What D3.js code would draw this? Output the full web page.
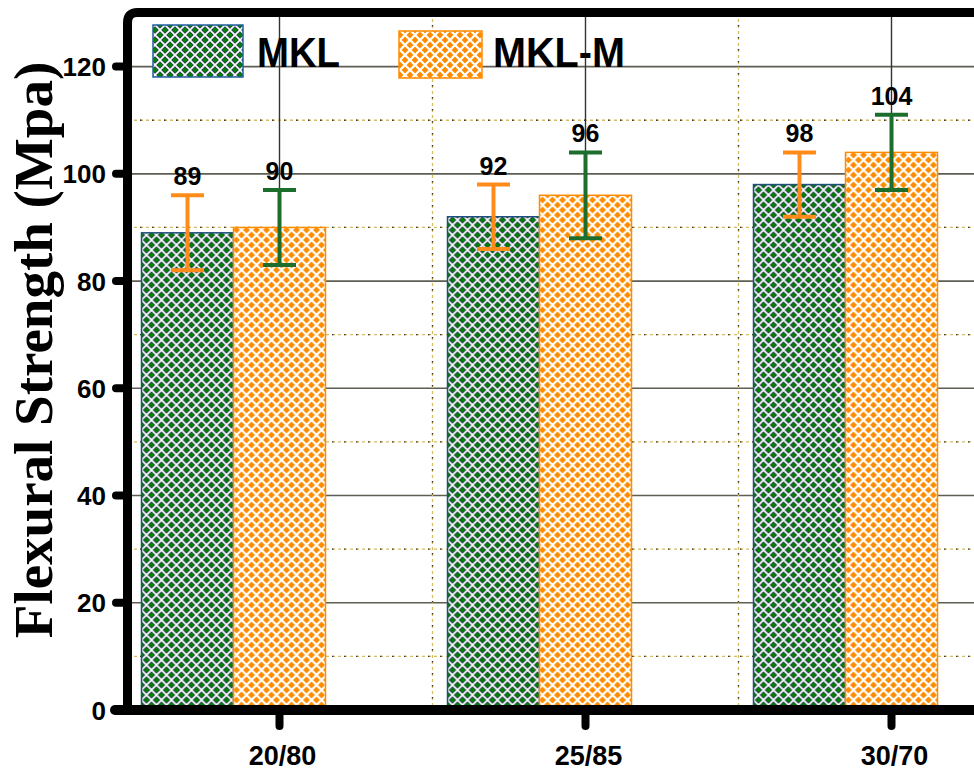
<!DOCTYPE html>
<html>
<head>
<meta charset="utf-8">
<script src="https://cdn.jsdelivr.net/npm/d3@7/dist/d3.min.js"></script>
<style>
  html, body { margin: 0; padding: 0; background: #fff; }
  svg { display: block; }
</style>
</head>
<body>
<svg id="chart" width="974" height="770"></svg>
<script>
// ---- data ----
const categories = ["20/80", "25/85", "30/70"];
const seriesNames = ["MKL", "MKL-M"];
const mklValues = [89, 92, 98];
const mklmValues = [90, 96, 104];
const mklErrors = [7, 6, 6];
const mklmErrors = [7, 8, 7];
const yTickValues = [0, 20, 40, 60, 80, 100, 120];
const yMinorValues = [10, 30, 50, 70, 90, 110];
const yTitle = "Flexural Strength (Mpa)";

const svg = d3.select("#chart");
const W = 974, H = 770;

// ---- scales ----
const y = d3.scaleLinear().domain([0, 130]).range([710, 13]);
const x0 = d3.scaleBand().domain(categories).range([141.5, 937.5]).paddingInner(0.3987).paddingOuter(0);
const x1 = d3.scaleBand().domain(seriesNames).range([0, x0.bandwidth()]).padding(0);
const tickX = c => x0(c) + x1("MKL-M") + x1.bandwidth() / 2;

const green = "#008000", orange = "#ff8c00";
const errGreen = "#1d6d2c", errOrange = "#ff8c1a";

// ---- patterns ----
const P = 10;
const hatch = `M-1,-1L${P + 1},${P + 1}M${P + 1},-1L-1,${P + 1}`;
const defs = svg.append("defs");
const pg = defs.append("pattern").attr("id", "pGreen").attr("patternUnits", "userSpaceOnUse")
  .attr("width", P).attr("height", P);
pg.append("rect").attr("width", P).attr("height", P).attr("fill", green);
pg.append("path").attr("d", hatch).attr("stroke", "#2a3f55").attr("stroke-width", 3.2);
pg.append("path").attr("d", hatch).attr("stroke", "#ffffff").attr("stroke-width", 1.6);

const po = defs.append("pattern").attr("id", "pOrange").attr("patternUnits", "userSpaceOnUse")
  .attr("width", P).attr("height", P);
po.append("rect").attr("width", P).attr("height", P).attr("fill", orange);
po.append("path").attr("d", hatch).attr("stroke", "#ffffff").attr("stroke-width", 2.2);

// ---- gridlines ----
const grid = svg.append("g");
grid.selectAll(".hminY").data(yMinorValues).join("line")
  .attr("x1", 128).attr("x2", W).attr("y1", d => y(d)).attr("y2", d => y(d))
  .attr("stroke", "#d8bc60").attr("stroke-width", 1.3).attr("stroke-dasharray", "3,3");
grid.selectAll(".hminK").data(yMinorValues).join("line")
  .attr("x1", 128).attr("x2", W).attr("y1", d => y(d)).attr("y2", d => y(d))
  .attr("stroke", "#333").attr("stroke-width", 1.3).attr("stroke-dasharray", "1.5,10.5");
grid.selectAll(".hmaj").data(yTickValues.filter(d => d > 0)).join("line")
  .attr("x1", 128).attr("x2", W).attr("y1", d => y(d)).attr("y2", d => y(d))
  .attr("stroke", "#5e5e54").attr("stroke-width", 1.6);
const step = x0.step();
const vMinor = categories.slice(0, -1).map(c => tickX(c) + step / 2);
grid.selectAll(".vmin").data(vMinor).join("line")
  .attr("x1", d => d).attr("x2", d => d).attr("y1", 13).attr("y2", 710)
  .attr("stroke", "#d8bc60").attr("stroke-width", 1.3).attr("stroke-dasharray", "3,3");
grid.selectAll(".vminK").data(vMinor).join("line")
  .attr("x1", d => d).attr("x2", d => d).attr("y1", 13).attr("y2", 710)
  .attr("stroke", "#333").attr("stroke-width", 1.3).attr("stroke-dasharray", "1.5,10.5");
grid.selectAll(".vmaj").data(categories).join("line")
  .attr("x1", d => tickX(d)).attr("x2", d => tickX(d)).attr("y1", 13).attr("y2", 710)
  .attr("stroke", "#333").attr("stroke-width", 1.4);

// ---- bars ----
const rows = categories.map((c, i) => ({
  cat: c,
  vals: [
    { s: "MKL", v: mklValues[i], e: mklErrors[i] },
    { s: "MKL-M", v: mklmValues[i], e: mklmErrors[i] }
  ]
}));
const gBars = svg.append("g");
const groups = gBars.selectAll("g").data(rows).join("g")
  .attr("transform", d => `translate(${x0(d.cat)},0)`);
groups.selectAll("rect").data(d => d.vals).join("rect")
  .attr("x", d => x1(d.s)).attr("width", x1.bandwidth())
  .attr("y", d => y(d.v)).attr("height", d => y(0) - y(d.v))
  .attr("fill", d => d.s === "MKL" ? "url(#pGreen)" : "url(#pOrange)")
  .attr("stroke", d => d.s === "MKL" ? "#1f4f7a" : "#ff8c00")
  .attr("stroke-width", 1.5);

// ---- error bars ----
const capW = 33;
const eb = groups.selectAll("g.err").data(d => d.vals).join("g").attr("class", "err")
  .attr("stroke", d => d.s === "MKL" ? errOrange : errGreen)
  .attr("stroke-width", 4);
eb.append("line")
  .attr("x1", d => x1(d.s) + x1.bandwidth() / 2).attr("x2", d => x1(d.s) + x1.bandwidth() / 2)
  .attr("y1", d => y(d.v + d.e)).attr("y2", d => y(d.v - d.e));
eb.append("line")
  .attr("x1", d => x1(d.s) + x1.bandwidth() / 2 - capW / 2).attr("x2", d => x1(d.s) + x1.bandwidth() / 2 + capW / 2)
  .attr("y1", d => y(d.v + d.e)).attr("y2", d => y(d.v + d.e));
eb.append("line")
  .attr("x1", d => x1(d.s) + x1.bandwidth() / 2 - capW / 2).attr("x2", d => x1(d.s) + x1.bandwidth() / 2 + capW / 2)
  .attr("y1", d => y(d.v - d.e)).attr("y2", d => y(d.v - d.e));

// ---- value labels ----
groups.selectAll("text.val").data(d => d.vals).join("text").attr("class", "val")
  .attr("x", d => x1(d.s) + x1.bandwidth() / 2)
  .attr("y", d => y(d.v + d.e) - 10)
  .attr("text-anchor", "middle")
  .attr("font-family", "Liberation Sans, Arial, sans-serif")
  .attr("font-weight", "bold").attr("font-size", 25).attr("fill", "#000")
  .text(d => d.v);

// ---- frame / axes ----
const frame = svg.append("g").attr("fill", "none").attr("stroke", "#000");
frame.append("path")
  .attr("d", `M127.5,${y(0)} L127.5,22.5 Q127.5,12.5 137.5,12.5 L${W + 10},12.5`)
  .attr("stroke-width", 9);
frame.append("line").attr("x1", 115).attr("x2", W + 10).attr("y1", y(0)).attr("y2", y(0))
  .attr("stroke-width", 10).attr("stroke-linecap", "round");
frame.selectAll(".yt").data(yTickValues).join("line")
  .attr("x1", 116).attr("x2", 128).attr("y1", d => y(d)).attr("y2", d => y(d))
  .attr("stroke-width", 8).attr("stroke-linecap", "round");
frame.selectAll(".xt").data(categories).join("line")
  .attr("x1", d => tickX(d)).attr("x2", d => tickX(d)).attr("y1", y(0)).attr("y2", 726)
  .attr("stroke-width", 8).attr("stroke-linecap", "round");

svg.append("g").selectAll("text").data(yTickValues).join("text")
  .attr("x", 106).attr("y", d => y(d) + 9.5)
  .attr("text-anchor", "end")
  .attr("font-family", "Liberation Sans, Arial, sans-serif")
  .attr("font-weight", "bold").attr("font-size", 26)
  .text(d => d);
svg.append("g").selectAll("text").data(categories).join("text")
  .attr("x", d => tickX(d) + 3).attr("y", 765)
  .attr("text-anchor", "middle")
  .attr("font-family", "Liberation Sans, Arial, sans-serif")
  .attr("font-weight", "bold").attr("font-size", 27)
  .text(d => d);

svg.append("text")
  .attr("transform", "translate(52,350) rotate(-90)")
  .attr("text-anchor", "middle")
  .attr("font-family", "Liberation Serif, Times New Roman, serif")
  .attr("font-weight", "bold").attr("font-size", 55)
  .text(yTitle);

// ---- legend ----
const leg = svg.append("g");
const legItems = [
  { s: "MKL", rx: 153, ry: 25, rw: 90, rh: 52, tx: 257, tl: 83 },
  { s: "MKL-M", rx: 399, ry: 31, rw: 83, rh: 47, tx: 493, tl: 132 }
];
leg.selectAll("rect").data(legItems).join("rect")
  .attr("x", d => d.rx).attr("y", d => d.ry).attr("width", d => d.rw).attr("height", d => d.rh)
  .attr("fill", d => d.s === "MKL" ? "url(#pGreen)" : "url(#pOrange)")
  .attr("stroke", d => d.s === "MKL" ? "#1f5f9a" : "#ff8c00").attr("stroke-width", 1.5);
leg.selectAll("text").data(legItems).join("text")
  .attr("x", d => d.tx).attr("y", 67)
  .attr("font-family", "Liberation Sans, Arial, sans-serif")
  .attr("font-weight", "bold").attr("font-size", 43)
  .attr("textLength", d => d.tl).attr("lengthAdjust", "spacingAndGlyphs")
  .text(d => d.s);
</script>
</body>
</html>
